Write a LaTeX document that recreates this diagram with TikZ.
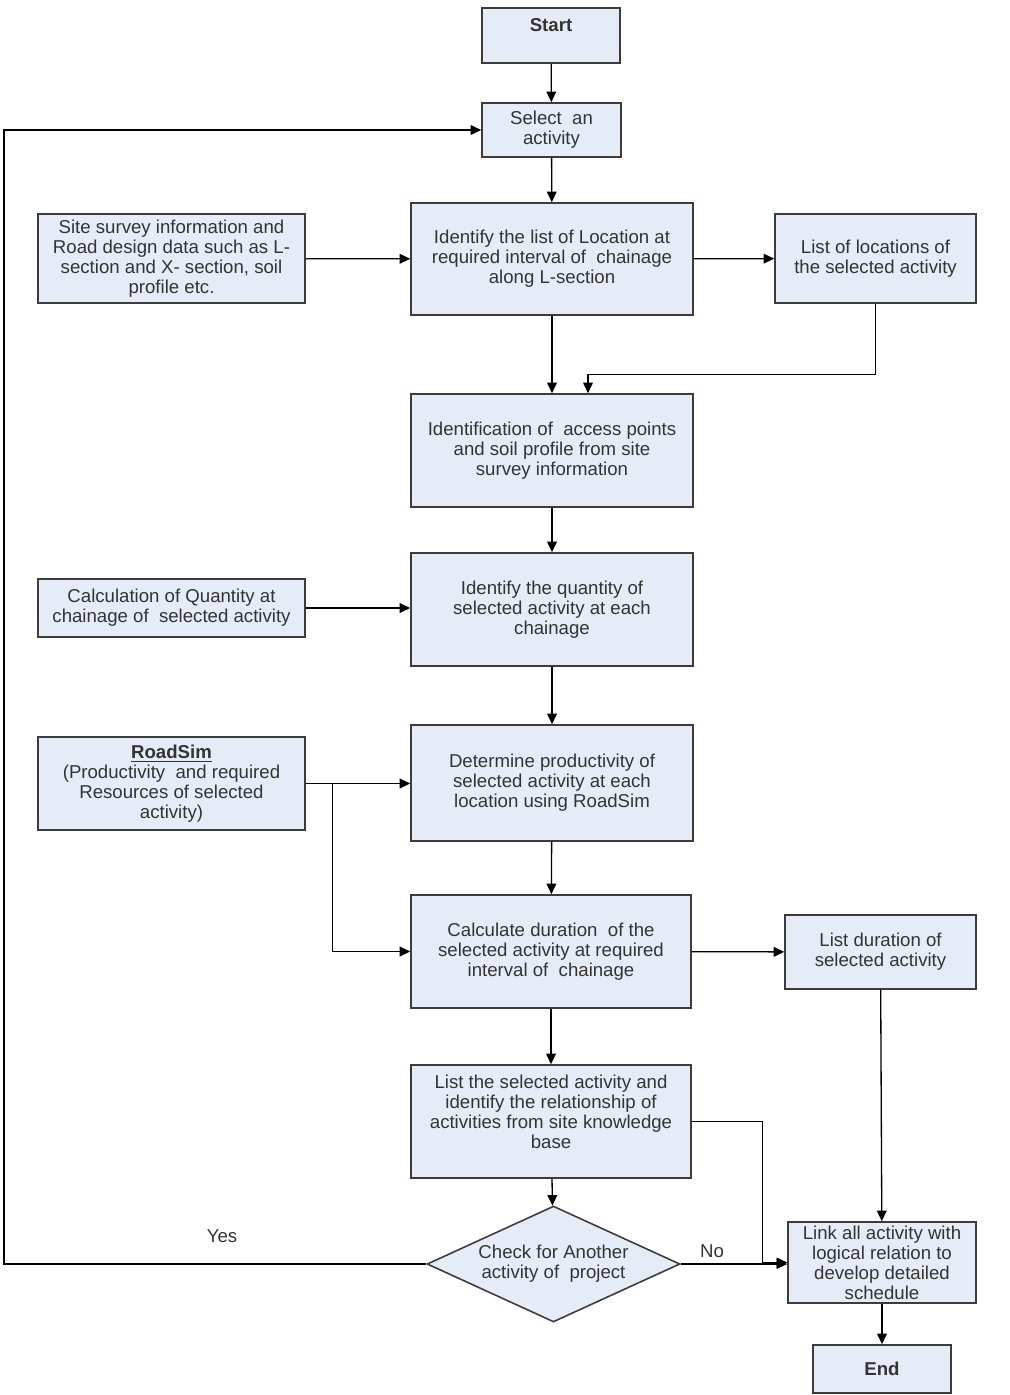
\documentclass[tikz,border=0pt]{standalone}
\usepackage{fontspec}
\setmainfont{Liberation Sans}
\usetikzlibrary{shapes.geometric,arrows.meta,positioning,calc}
\definecolor{boxfill}{HTML}{E6ECF7}
\definecolor{boxline}{HTML}{3C3C3C}
\definecolor{txtgray}{HTML}{333333}

\tikzset{
  box/.style={draw=boxline, line width=0.9pt, fill=boxfill, align=center,
    inner sep=1pt, text=txtgray, font=\fontsize{10.6}{11.4}\selectfont},
  decision/.style={box, diamond, aspect=2.2, inner sep=-4pt},
  arr/.style={-{Triangle[length=6pt,width=5.5pt]}, line width=0.75pt},
  lbl/.style={text=txtgray, font=\fontsize{10.6}{11.4}\selectfont}
}

\begin{document}
\begin{tikzpicture}[x=0.02cm, y=-0.02cm]
    \useasboundingbox (0,0) rectangle (1009,1395);

    % Main column
    \node[box, minimum width=2.76cm, minimum height=1.10cm] (start) at (551,35.5) {\bfseries Start\\\mbox{}};
    \node[box, minimum width=2.78cm, minimum height=1.08cm] (select) at (551.5,130) {Select~ an\\activity};
    \node[box, minimum width=5.64cm, minimum height=2.24cm] (locid) at (552,259) {Identify the list of Location at\\required interval of~ chainage\\along L-section};
    \node[box, minimum width=5.64cm, minimum height=2.26cm] (access) at (552,450.5) {Identification of~ access points\\and soil profile from site\\survey information};
    \node[box, minimum width=5.64cm, minimum height=2.26cm] (quantid) at (552,609.5) {Identify the quantity of\\selected activity at each\\chainage};
    \node[box, minimum width=5.64cm, minimum height=2.32cm] (prod) at (552,783) {Determine productivity of\\selected activity at each\\location using RoadSim};
    \node[box, minimum width=5.60cm, minimum height=2.26cm] (dur) at (551,951.5) {Calculate duration~ of the\\selected activity at required\\interval of~ chainage};
    \node[box, minimum width=5.60cm, minimum height=2.26cm] (actlist) at (551,1121.5) {List the selected activity and\\identify the relationship of\\activities from site knowledge\\base\\\mbox{}};
    \node[decision, minimum width=5.06cm, minimum height=2.32cm] (check) at (553.5,1264) {Check for Another\\activity of~ project};

    % Inputs on the left
    \node[box, minimum width=5.34cm, minimum height=1.78cm] (site) at (171.5,258.5) {Site survey information and\\Road design data such as L-\\section and X- section, soil\\profile etc.};
    \node[box, minimum width=5.34cm, minimum height=1.16cm] (quant) at (171.5,608) {Calculation of Quantity at\\chainage of~ selected activity};
    \node[box, minimum width=5.34cm, minimum height=1.86cm] (roadsim) at (171.5,783.5) {\textbf{\underline{RoadSim}}\\(Productivity~ and required\\Resources of selected\\activity)};

    % Outputs on the right
    \node[box, minimum width=4.02cm, minimum height=1.78cm] (loclist) at (875.5,258.5) {List of locations of\\the selected activity};
    \node[box, minimum width=3.82cm, minimum height=1.48cm] (durlist) at (880.5,952) {List duration of\\selected activity};
    \node[box, minimum width=3.76cm, minimum height=1.62cm] (link) at (882,1262.5) {Link all activity with\\logical relation to\\develop detailed\\schedule};
    \node[box, minimum width=2.76cm, minimum height=0.96cm] (end) at (882,1369) {\bfseries End};

    % Labels
    \node[lbl] (yes) at (222,1236) {Yes};
    \node[lbl] (no) at (712,1251) {No};

    % Connectors
    \coordinate (locjoin) at ([xshift=0.72cm]access.north);
    \coordinate (rsplit) at ([xshift=0.54cm]roadsim.east);
    \coordinate (loopcorner) at (4,1264);
    \draw[arr] (start) -- (select);
    \draw[arr] (select) -- (locid);
    \draw[arr] (site) -- (locid);
    \draw[arr] (locid) -- (loclist);
    \draw[arr] (locid) -- (access);
    \draw[arr] (loclist.south) |- ([yshift=0.38cm]locjoin) -- (locjoin);
    \draw[arr] (access) -- (quantid);
    \draw[arr] (quant.east) -- (quant.east -| quantid.west);
    \draw[arr] (quantid) -- (prod);
    \draw[arr] (roadsim.east) -- (roadsim.east -| prod.west);
    \draw[arr] (rsplit) |- (dur.west);
    \draw[arr] (prod) -- (dur);
    \draw[arr] (dur) -- (durlist);
    \draw[arr] (dur) -- (actlist);
    \draw[arr] (durlist) -- (link);
    \draw[arr] (actlist.east) -| ([xshift=-0.5cm]link.west) -- (link.west);
    \draw[arr] (actlist) -- (check);
    \draw[arr] (check.east) -- (check.east -| link.west);
    \draw[arr] (check.west) -- (loopcorner) |- (select.west);
    \draw[arr] (link) -- (end);
\end{tikzpicture}
\end{document}
